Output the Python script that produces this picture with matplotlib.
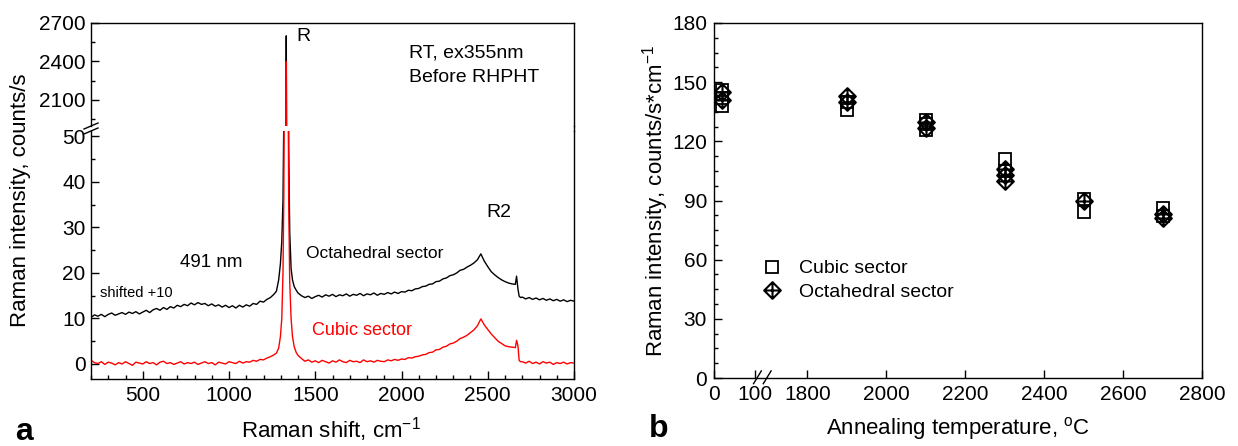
import numpy as np
import matplotlib
matplotlib.use("Agg")
import matplotlib.pyplot as plt
from matplotlib.lines import Line2D
from matplotlib.path import Path
from matplotlib.ticker import MultipleLocator, FixedLocator, NullLocator

plt.rcParams['font.family'] = ['Liberation Sans', 'DejaVu Sans']
plt.rcParams['mathtext.fontset'] = 'custom'
plt.rcParams['mathtext.rm'] = 'Liberation Sans'
plt.rcParams['mathtext.it'] = 'Liberation Sans:italic'

# ---------------- panel a: Raman spectra ----------------
shift = [
    # 200 - 1260
    200, 220, 240, 260, 280, 300, 320, 340, 360, 380,
    400, 420, 440, 460, 480, 500, 520, 540, 560, 580,
    600, 620, 640, 660, 680, 700, 720, 740, 760, 780,
    800, 820, 840, 860, 880, 900, 920, 940, 960, 980,
    1000, 1020, 1040, 1060, 1080, 1100, 1120, 1140, 1160, 1180,
    1200, 1220, 1240, 1260,
    # R peak
    1275, 1288, 1298, 1306, 1313, 1318, 1322, 1326, 1329, 1332,
    1335, 1338, 1342, 1346, 1352, 1360, 1368, 1378, 1390,
    # 1400 - 2660
    1400, 1420, 1440, 1460, 1480, 1500, 1520, 1540, 1560, 1580,
    1600, 1620, 1640, 1660, 1680, 1700, 1720, 1740, 1760, 1780,
    1800, 1820, 1840, 1860, 1880, 1900, 1920, 1940, 1960, 1980,
    2000, 2020, 2040, 2060, 2080, 2100, 2120, 2140, 2160, 2180,
    2200, 2220, 2240, 2260, 2280, 2300, 2320, 2340, 2360, 2380,
    2400, 2420, 2440, 2460, 2480, 2500, 2520, 2540, 2560, 2580,
    2600, 2620, 2640, 2660,
    # step
    2667, 2675, 2682, 2690,
    # 2700 - 3000
    2700, 2720, 2740, 2760, 2780, 2800, 2820, 2840, 2860, 2880,
    2900, 2920, 2940, 2960, 2980, 3000,
]

cubic = [
    0.8, 0.3, 0.1, 0.5, -0.1, 0.4, 0.2, -0.2, 0.3, 0.0,
    0.5, 0.1, -0.3, 0.4, 0.2, 0.0, 0.5, 0.1, 0.3, -0.2,
    0.4, 0.6, 0.1, 0.3, -0.1, 0.2, 0.5, 0.0, 0.3, 0.1,
    0.4, -0.1, 0.2, 0.5, 0.1, 0.3, -0.2, 0.4, 0.2, 0.0,
    0.5, 0.3, 0.1, 0.6, 0.2, 0.5, 0.4, 0.8, 0.6, 1.0,
    0.9, 1.3, 1.6, 2.0,
    2.4, 3.5, 6, 10, 20, 38, 75, 250, 1200, 2400,
    1100, 230, 70, 36, 18, 10, 6, 3.8, 2.5,
    1.9, 1.2, 0.6, 0.9, 0.4, 0.7, 0.3, 0.8, 0.5, 0.2,
    0.7, 0.4, 0.9, 0.5, 0.3, 0.8, 0.5, 0.6, 0.3, 0.9,
    0.5, 0.7, 0.4, 0.8, 0.6, 0.5, 0.9, 0.7, 1.0, 0.8,
    1.1, 1.0, 1.4, 1.3, 1.6, 1.7, 2.0, 2.1, 2.5, 2.6,
    3.1, 3.2, 3.7, 3.9, 4.4, 4.6, 5.0, 5.6, 5.9, 6.3,
    6.9, 7.5, 8.4, 9.9, 8.6, 7.6, 6.6, 5.8, 5.0, 4.5,
    4.0, 3.8, 3.7, 3.6,
    5.2, 4.0, 0.8, 0.5,
    0.5, 0.2, 0.6, 0.1, 0.4, 0.0, 0.5, 0.2, 0.4, -0.1,
    0.3, 0.1, 0.4, 0.0, 0.3, 0.2,
]

# octahedral sector spectrum, already shifted by +10
octahedral = [
    10.2, 10.8, 10.5, 10.9, 10.4, 10.9, 11.2, 10.7, 11.0, 11.3,
    10.9, 11.4, 11.1, 11.5, 11.0, 11.4, 11.8, 11.3, 11.9, 12.2,
    11.8, 12.4, 12.0, 12.6, 12.3, 12.9, 12.6, 13.1, 12.8, 13.4,
    13.0, 13.5, 13.1, 13.3, 12.8, 13.2, 12.7, 13.0, 12.5, 12.9,
    12.4, 12.8, 12.3, 12.9, 12.5, 13.0, 12.7, 13.3, 13.1, 13.8,
    13.6, 14.2, 14.6, 15.3,
    16.0, 18.5, 22, 27, 36, 55, 110, 320, 1400, 2600,
    1300, 300, 95, 48, 29, 21, 18.5, 17, 16.2,
    15.6, 15.0, 14.6, 14.9, 14.4, 14.8, 15.1, 14.7, 15.2, 14.9,
    15.3, 14.8, 15.2, 15.0, 15.4, 14.9, 15.3, 15.1, 15.5, 15.0,
    15.4, 15.2, 15.6, 15.1, 15.5, 15.3, 15.7, 15.4, 15.8, 15.5,
    15.9, 15.8, 16.2, 16.1, 16.5, 16.6, 17.0, 17.1, 17.5, 17.6,
    18.1, 18.2, 18.7, 18.9, 19.4, 19.6, 20.0, 20.6, 20.8, 21.3,
    21.7, 22.2, 22.9, 24.2, 22.6, 21.4, 20.3, 19.6, 19.0, 18.5,
    18.1, 17.8, 17.6, 17.5,
    19.3, 16.5, 14.9, 14.6,
    14.7, 14.3, 14.6, 14.2, 14.5, 14.1, 14.4, 14.0, 14.3, 13.9,
    14.2, 13.8, 14.1, 13.7, 14.0, 13.8,
]

# ---------------- panel b: intensity vs annealing temperature ----------------
cubic_temp = [20, 20, 20, 1900, 1900, 2100, 2100, 2100, 2300, 2300, 2500, 2500, 2700, 2700]
cubic_int = [138, 142, 146, 136, 140, 126, 129, 131, 111, 105, 84, 91, 86, 82]
octa_temp = [20, 20, 1900, 1900, 2100, 2100, 2300, 2300, 2300, 2500, 2700, 2700]
octa_int = [141, 145, 140, 143, 127, 130, 100, 103, 106, 90, 81, 83]

W, H = 1238, 446
fig = plt.figure(figsize=(W / 100, H / 100), dpi=100)


def fx(px):
    return px / W


def fy(py):
    return 1 - py / H


TICK_FS = 15
LABEL_FS = 16

# left panel: two stacked axes (broken y axis)
L, R = 91, 574
ax_hi = fig.add_axes([fx(L), fy(126), fx(R - L), (126 - 23) / H])
ax_lo = fig.add_axes([fx(L), fy(379), fx(R - L), (379 - 131) / H])

for ax in (ax_hi, ax_lo):
    ax.plot(shift, octahedral, color='black', lw=1.0)
    ax.plot(shift, cubic, color='red', lw=1.0)
    ax.set_xlim(200, 3000)
    for s in ax.spines.values():
        s.set_linewidth(1.0)
    ax.tick_params(direction='in', labelsize=TICK_FS, which='both', right=False, top=False)
    ax.tick_params(which='major', length=6, width=1.0, pad=4)
    ax.tick_params(which='minor', length=3, width=1.0)

ax_hi.set_ylim(1897, 2700)
ax_hi.yaxis.set_major_locator(FixedLocator([2100, 2400, 2700]))
ax_hi.yaxis.set_minor_locator(FixedLocator([1950, 2250, 2550]))
ax_hi.xaxis.set_major_locator(NullLocator())
ax_hi.xaxis.set_minor_locator(NullLocator())
ax_hi.spines['bottom'].set_visible(False)

ax_lo.set_ylim(-3.3, 51.2)
ax_lo.yaxis.set_major_locator(MultipleLocator(10))
ax_lo.yaxis.set_minor_locator(MultipleLocator(5))
ax_lo.xaxis.set_major_locator(MultipleLocator(500))
ax_lo.xaxis.set_minor_locator(MultipleLocator(100))
ax_lo.spines['top'].set_visible(False)
ax_lo.xaxis.set_tick_params(pad=5)

# right spine bridge and left break marks
fig.add_artist(Line2D([fx(R), fx(R)], [fy(126), fy(131)], color='black', lw=1.0))
for yb in (126, 131):
    fig.add_artist(Line2D([fx(L - 7), fx(L + 7)], [fy(yb + 3), fy(yb - 3)], color='black', lw=1.0))

ax_hi.text(1390, 2591, 'R', fontsize=14, va='center', ha='left')
ax_hi.text(2043, 2466, 'RT, ex355nm', fontsize=14, va='center', ha='left')
ax_hi.text(2043, 2279, 'Before RHPHT', fontsize=14, va='center', ha='left')
ax_lo.text(2565, 33.2, 'R2', fontsize=14, va='center', ha='center')
ax_lo.text(1446, 24.2, 'Octahedral sector', fontsize=12.5, va='center', ha='left')
ax_lo.text(1481, 7.3, 'Cubic sector', fontsize=13, va='center', ha='left', color='red')
ax_lo.text(896, 22.4, '491 nm', fontsize=13.5, va='center', ha='center')
ax_lo.text(252, 15.6, 'shifted +10', fontsize=10.5, va='center', ha='left')

fig.text(fx(21), fy(200), 'Raman intensity, counts/s', rotation=90, fontsize=LABEL_FS,
         ha='center', va='center')
fig.text(fx(331), fy(438), 'Raman shift, cm$^{-1}$', fontsize=LABEL_FS, ha='center',
         va='baseline')
fig.text(fx(15), fy(440), 'a', fontsize=23, fontweight='bold', ha='left', va='baseline')

# right panel: broken x axis via a piecewise scale
LO_END, HI_START = 120.0, 1689.0
RATIO = 0.41 / 0.395


def fwd(x):
    x = np.asarray(x, dtype=float)
    lo = HI_START - 1 - (LO_END - x) * RATIO
    mid = HI_START - 1 + (x - LO_END) / (HI_START - LO_END)
    return np.where(x <= LO_END, lo, np.where(x >= HI_START, x, mid))


def inv(y):
    y = np.asarray(y, dtype=float)
    lo = LO_END - (HI_START - 1 - y) / RATIO
    mid = LO_END + (y - (HI_START - 1)) * (HI_START - LO_END)
    return np.where(y <= HI_START - 1, lo, np.where(y >= HI_START, y, mid))


RL, RR = 714, 1202
ax2 = fig.add_axes([fx(RL), fy(378), fx(RR - RL), (378 - 23) / H])
ax2.set_xscale('function', functions=(fwd, inv))

diamond_cross = Path(
    [(0, 1), (1, 0), (0, -1), (-1, 0), (0, 1), (-1, 0), (1, 0), (0, -1), (0, 1)],
    [Path.MOVETO, Path.LINETO, Path.LINETO, Path.LINETO, Path.CLOSEPOLY,
     Path.MOVETO, Path.LINETO, Path.MOVETO, Path.LINETO])

ax2.plot(cubic_temp, cubic_int, ls='none', marker='s', ms=9, mfc='none', mec='black',
         mew=1.3, label='Cubic sector')
ax2.plot(octa_temp, octa_int, ls='none', marker=diamond_cross, ms=12, mfc='none',
         mec='black', mew=1.5, label='Octahedral sector')

ax2.set_xlim(0, 2800)
ax2.set_ylim(0, 180)
ax2.xaxis.set_major_locator(FixedLocator([0, 100, 1800, 2000, 2200, 2400, 2600, 2800]))
ax2.xaxis.set_minor_locator(NullLocator())
ax2.xaxis.set_major_formatter(plt.FuncFormatter(lambda v, p: '%d' % round(v)))
ax2.yaxis.set_major_locator(MultipleLocator(30))
ax2.yaxis.set_minor_locator(MultipleLocator(7.5))
for s in ax2.spines.values():
    s.set_linewidth(1.0)
ax2.tick_params(direction='in', labelsize=TICK_FS, which='both', right=False, top=False)
ax2.tick_params(which='major', length=6, width=1.0, pad=5)
ax2.tick_params(which='minor', length=3, width=1.0)

for xb in (0.089, 0.109):
    ax2.add_line(Line2D([xb - 0.008, xb + 0.008], [-0.016, 0.02], transform=ax2.transAxes,
                        color='black', lw=1.0, clip_on=False))

ax2.legend(loc='upper left', bbox_to_anchor=(0.073, 0.355), frameon=False, fontsize=14,
           handlelength=1.5, handletextpad=0.64, labelspacing=0.3, numpoints=1,
           borderaxespad=0)

fig.text(fx(656), fy(201), 'Raman intensity, counts/s*cm$^{-1}$', rotation=90,
         fontsize=LABEL_FS, ha='center', va='center')
fig.text(fx(958), fy(434), 'Annealing temperature, $^{\\rm o}$C', fontsize=LABEL_FS,
         ha='center', va='baseline')
fig.text(fx(649), fy(437), 'b', fontsize=23, fontweight='bold', ha='left', va='baseline')

fig.savefig('out.png', dpi=100)
